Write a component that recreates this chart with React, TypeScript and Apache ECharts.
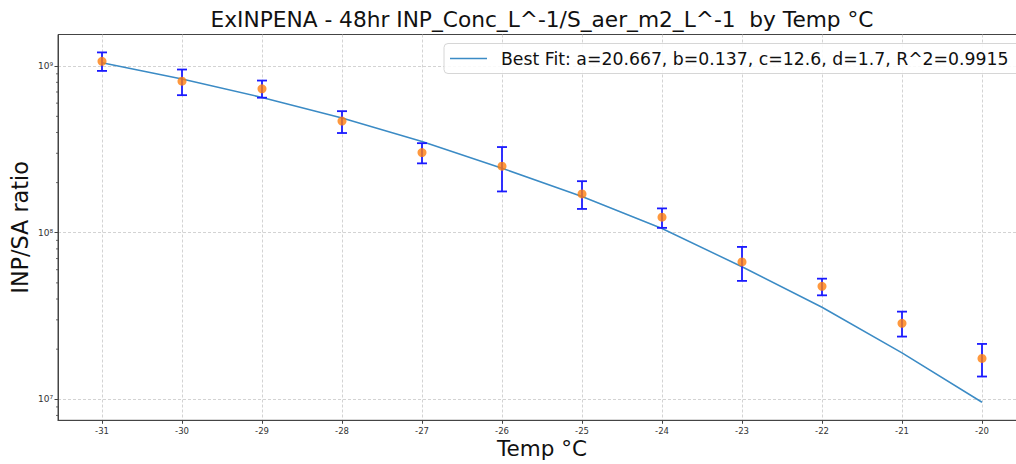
import React, { useEffect, useRef } from "react";
import * as echarts from "echarts";

const TEMPS = [-31, -30, -29, -28, -27, -26, -25, -24, -23, -22, -21, -20];
const RATIO = [1.07e9, 8.13e8, 7.31e8, 4.68e8, 3.03e8, 2.51e8, 1.71e8, 1.24e8, 6.68e7, 4.77e7, 2.86e7, 1.76e7];
const ERR_HIGH = [1.21e9, 9.55e8, 8.2e8, 5.37e8, 3.45e8, 3.27e8, 2.04e8, 1.4e8, 8.22e7, 5.3e7, 3.36e7, 2.15e7];
const ERR_LOW = [9.37e8, 6.7e8, 6.47e8, 3.97e8, 2.61e8, 1.77e8, 1.39e8, 1.07e8, 5.14e7, 4.21e7, 2.38e7, 1.37e7];
const FIT = [1.05e9, 8.39e8, 6.49e8, 4.88e8, 3.53e8, 2.44e8, 1.65e8, 1.06e8, 6.25e7, 3.57e7, 1.9e7, 9.6e6];
const X_TICKS = [-31, -30, -29, -28, -27, -26, -25, -24, -23, -22, -21, -20];
const Y_TICKS = [1e7, 1e8, 1e9];
const Y_MINOR = [8e6, 9e6, 2e7, 3e7, 4e7, 5e7, 6e7, 7e7, 8e7, 9e7, 2e8, 3e8, 4e8, 5e8, 6e8, 7e8, 8e8, 9e8];
const X_MIN = -31.55;
const X_MAX = -19.45;
const Y_MIN = 7.48e6;
const Y_MAX = 1.55e9;
const TITLE = "ExINPENA - 48hr INP_Conc_L^-1/S_aer_m2_L^-1  by Temp °C";
const FIT_LABEL = "Best Fit: a=20.667, b=0.137, c=12.6, d=1.7, R^2=0.9915";

const SUP: Record<string, string> = { "0": "⁰", "1": "¹", "2": "²", "3": "³", "4": "⁴", "5": "⁵", "6": "⁶", "7": "⁷", "8": "⁸", "9": "⁹" };
const FONT = "DejaVu Sans";
const AXIS_COLOR = "#444";

export default function App() {
  const ref = useRef<HTMLDivElement>(null);
  useEffect(() => {
    if (!ref.current) return;
    const chart = echarts.init(ref.current, undefined, { renderer: "svg" });
    const option: any = {
      animation: false,
      backgroundColor: "#fff",
      textStyle: { fontFamily: FONT },
      title: {
        text: TITLE,
        left: 542,
        textAlign: "center",
        top: 8,
        padding: 0,
        textStyle: { fontFamily: FONT, fontSize: 21.7, fontWeight: "normal", color: "#111" },
      },
      legend: {
        data: [FIT_LABEL],
        icon: "rect",
        left: 444,
        top: 43.5,
        padding: [6, 14, 6, 6],
        itemWidth: 37,
        itemHeight: 1.6,
        backgroundColor: "rgba(255,255,255,0.85)",
        borderColor: "#d6d6d6",
        borderWidth: 1,
        borderRadius: 4,
        textStyle: { fontFamily: FONT, fontSize: 17.3, color: "#111", padding: [0, 0, 0, 9], lineHeight: 18 },
      },
      grid: {
        left: 58,
        top: 34.5,
        bottom: 43.7,
        width: 968,
        outerBoundsMode: "none",
        containLabel: false,
        show: true,
        borderColor: AXIS_COLOR,
        borderWidth: 1,
        backgroundColor: "transparent",
      },
      xAxis: {
        type: "value",
        min: X_MIN,
        max: X_MAX,
        name: "Temp °C",
        nameLocation: "middle",
        nameGap: 17,
        nameMoveOverlap: false,
        nameTextStyle: { fontFamily: FONT, fontSize: 21.5, color: "#111", verticalAlign: "top" },
        axisLine: { show: true, lineStyle: { color: AXIS_COLOR, width: 1 } },
        axisTick: { show: true, length: 3.5, customValues: X_TICKS, lineStyle: { color: AXIS_COLOR } },
        axisLabel: {
          customValues: X_TICKS,
          fontFamily: FONT,
          fontSize: 8.5,
          color: "#333",
          margin: 6,
          formatter: (v: number) => String(v),
        },
        splitLine: { show: true, lineStyle: { color: "#c8c8c8", type: [3, 2], width: 0.8 } },
      },
      yAxis: {
        type: "log",
        logBase: 10,
        min: Y_MIN,
        max: Y_MAX,
        name: "INP/SA ratio",
        nameLocation: "middle",
        nameGap: 27,
        nameMoveOverlap: false,
        nameTextStyle: { fontFamily: FONT, fontSize: 22.3, color: "#111" },
        axisLine: { show: true, lineStyle: { color: AXIS_COLOR, width: 1 } },
        axisTick: { show: true, length: 3.5, customValues: Y_TICKS, lineStyle: { color: AXIS_COLOR } },
        axisLabel: {
          customValues: Y_TICKS,
          fontFamily: FONT,
          fontSize: 9,
          color: "#333",
          margin: 5,
          formatter: (v: number) => {
            const e = Math.round(Math.log10(v));
            return "10" + String(e).split("").map((c) => SUP[c] || c).join("");
          },
        },
        splitLine: { show: true, lineStyle: { color: "#c8c8c8", type: [3, 2], width: 0.8 } },
      },
      series: [
        {
          type: "custom",
          name: "minorTicks",
          silent: true,
          clip: false,
          data: Y_MINOR.map((v) => [X_MIN, v]),
          encode: { x: 0, y: 1 },
          renderItem: (params: any, api: any) => {
            const p = api.coord([api.value(0), api.value(1)]);
            return {
              type: "line",
              shape: { x1: p[0] - 2, y1: p[1], x2: p[0], y2: p[1] },
              style: { stroke: AXIS_COLOR, lineWidth: 0.8 },
            };
          },
          z: 1,
        },
        {
          type: "line",
          name: FIT_LABEL,
          data: TEMPS.map((t, i) => [t, FIT[i]]),
          symbol: "none",
          showSymbol: false,
          lineStyle: { color: "#3b8bc5", width: 1.5 },
          itemStyle: { color: "#3b8bc5" },
          z: 2,
        },
        {
          type: "custom",
          name: "errors",
          silent: true,
          data: TEMPS.map((t, i) => [t, ERR_LOW[i], ERR_HIGH[i]]),
          encode: { x: 0, y: [1, 2] },
          renderItem: (params: any, api: any) => {
            const x = api.value(0);
            const lo = api.coord([x, api.value(1)]);
            const hi = api.coord([x, api.value(2)]);
            const cw = 5;
            const style = { stroke: "#1a1aff", lineWidth: 1.8 };
            return {
              type: "group",
              children: [
                { type: "line", shape: { x1: lo[0], y1: lo[1], x2: hi[0], y2: hi[1] }, style },
                { type: "line", shape: { x1: hi[0] - cw, y1: hi[1], x2: hi[0] + cw, y2: hi[1] }, style },
                { type: "line", shape: { x1: lo[0] - cw, y1: lo[1], x2: lo[0] + cw, y2: lo[1] }, style },
              ],
            };
          },
          z: 3,
        },
        {
          type: "scatter",
          name: "data",
          data: TEMPS.map((t, i) => [t, RATIO[i]]),
          symbol: "circle",
          symbolSize: 9,
          itemStyle: { color: "#ff7f0e" },
          z: 4,
        },
      ],
    };
    chart.setOption(option);
    return () => chart.dispose();
  }, []);
  return <div ref={ref} style={{ width: 1016, height: 464, position: "absolute", left: 0, top: 0 }} />;
}
